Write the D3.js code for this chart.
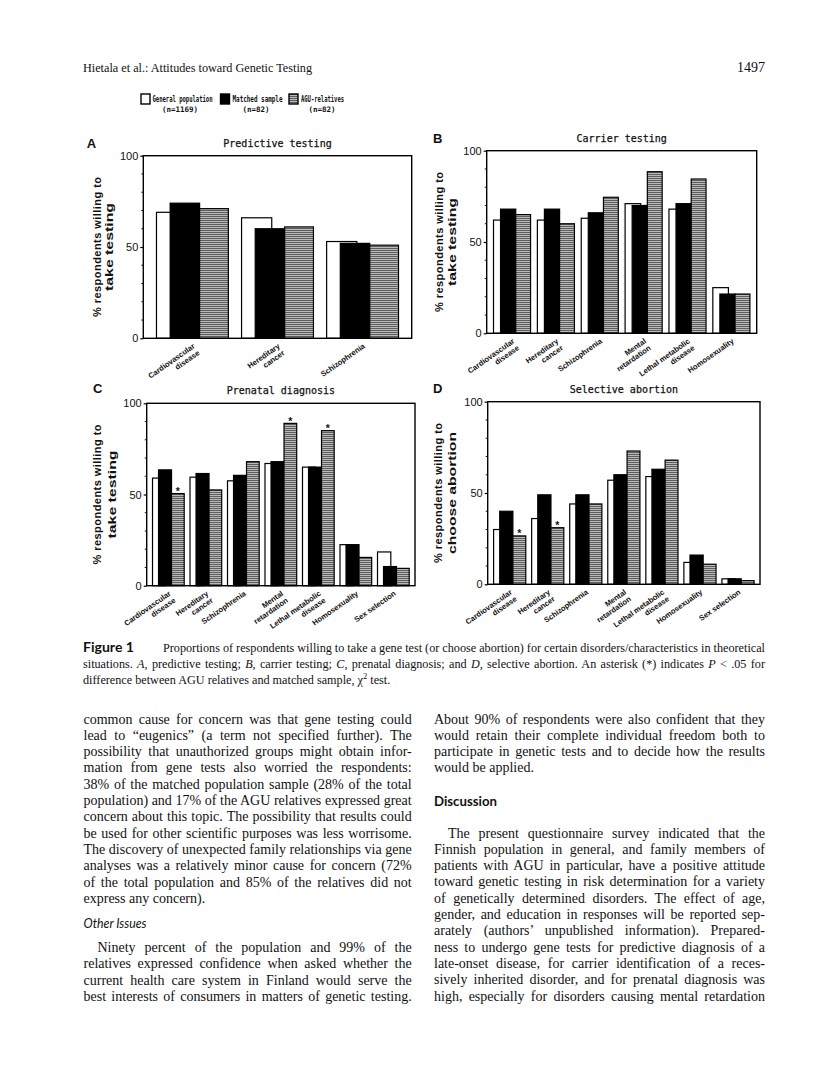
<!DOCTYPE html>
<html><head><meta charset="utf-8">
<script src="https://cdn.jsdelivr.net/npm/d3@7"></script>
<style>body{margin:0;background:#fff} svg{display:block} text{white-space:pre}</style>
</head><body>
<svg id="page" width="816" height="1081"></svg>
<script>
// ---------- DATA ----------
const headerTitle = "Hietala et al.: Attitudes toward Genetic Testing";
const pageNumber = "1497";
const seriesNames = ["General population", "Matched sample", "AGU-relatives"];
const seriesN = ["(n=1169)", "(n=82)", "(n=82)"];
const yTicks = [0, 50, 100];
const yMinorTicks = [10, 20, 30, 40, 60, 70, 80, 90];
const yTitleTesting = ["% respondents willing to", "take testing"];
const yTitleAbortion = ["% respondents willing to", "choose abortion"];
const panelTitles = ["Predictive testing", "Carrier testing", "Prenatal diagnosis", "Selective abortion"];
const panelLetters = ["A", "B", "C", "D"];

const categoriesA = ["Cardiovascular|disease", "Hereditary|cancer", "Schizophrenia"];
const categoriesB = ["Cardiovascular|disease", "Hereditary|cancer", "Schizophrenia", "Mental|retardation", "Lethal metabolic|disease", "Homosexuality"];
const categoriesCD = ["Cardiovascular|disease", "Hereditary|cancer", "Schizophrenia", "Mental|retardation", "Lethal metabolic|disease", "Homosexuality", "Sex selection"];

const predictiveGeneral = [69, 66, 53];
const predictiveMatched = [74, 60, 52];
const predictiveAGU     = [71, 61, 51];

const carrierGeneral = [62, 62, 63, 71, 68, 25];
const carrierMatched = [68, 68, 66, 70, 71, 21.5];
const carrierAGU     = [65, 60, 74.5, 88.5, 84.5, 21.5];

const prenatalGeneral = [59, 59.5, 57.5, 67, 65, 22.5, 18.5];
const prenatalMatched = [63.5, 61.5, 60.5, 68, 65, 22.5, 10.5];
const prenatalAGU     = [50.5, 52.5, 68, 89, 85, 15.5, 9.5];
const prenatalSignificant = [1, 0, 0, 1, 1, 0, 0];

const abortionGeneral = [30, 36, 44, 57, 59, 12, 3];
const abortionMatched = [40, 49, 49, 60, 63, 16, 3];
const abortionAGU     = [26.5, 31, 44, 73, 68, 11, 2];
const abortionSignificant = [1, 1, 0, 0, 0, 0, 0];

const captionLabel = "Figure 1";
const captionLines = [
  "Proportions of respondents willing to take a gene test (or choose abortion) for certain disorders/characteristics in theoretical",
  "situations. _A_, predictive testing; _B_, carrier testing; _C_, prenatal diagnosis; and _D_, selective abortion. An asterisk (*) indicates _P_ < .05 for",
  "difference between AGU relatives and matched sample, χ^2^ test."
];

const leftPara1 = [
  "common cause for concern was that gene testing could",
  "lead to “eugenics” (a term not specified further). The",
  "possibility that unauthorized groups might obtain infor-",
  "mation from gene tests also worried the respondents:",
  "38% of the matched population sample (28% of the total",
  "population) and 17% of the AGU relatives expressed great",
  "concern about this topic. The possibility that results could",
  "be used for other scientific purposes was less worrisome.",
  "The discovery of unexpected family relationships via gene",
  "analyses was a relatively minor cause for concern (72%",
  "of the total population and 85% of the relatives did not",
  "express any concern)."
];
const leftHeading = "Other Issues";
const leftPara2 = [
  "Ninety percent of the population and 99% of the",
  "relatives expressed confidence when asked whether the",
  "current health care system in Finland would serve the",
  "best interests of consumers in matters of genetic testing."
];
const rightPara1 = [
  "About 90% of respondents were also confident that they",
  "would retain their complete individual freedom both to",
  "participate in genetic tests and to decide how the results",
  "would be applied."
];
const rightHeading = "Discussion";
const rightPara2 = [
  "The present questionnaire survey indicated that the",
  "Finnish population in general, and family members of",
  "patients with AGU in particular, have a positive attitude",
  "toward genetic testing in risk determination for a variety",
  "of genetically determined disorders. The effect of age,",
  "gender, and education in responses will be reported sep-",
  "arately (authors’ unpublished information). Prepared-",
  "ness to undergo gene tests for predictive diagnosis of a",
  "late-onset disease, for carrier identification of a reces-",
  "sively inherited disorder, and for prenatal diagnosis was",
  "high, especially for disorders causing mental retardation"
];

// ---------- DRAWING ----------
const svg = d3.select("#page");
svg.append("rect").attr("width", 816).attr("height", 1081).attr("fill", "#fff");
const serif = "'Liberation Serif','Times New Roman',serif";
const sans = "'Liberation Sans',Arial,sans-serif";
const mono = "'DejaVu Sans Mono',monospace";
const gill = "Lato,'Open Sans',sans-serif";
const ink = "#111";

const defs = svg.append("defs");
const pat = defs.append("pattern").attr("id", "hatch").attr("patternUnits", "userSpaceOnUse")
  .attr("width", 4).attr("height", 2);
pat.append("rect").attr("width", 4).attr("height", 2).attr("fill", "#b9b9b9");
pat.append("rect").attr("width", 4).attr("height", 1).attr("fill", "#5e5e5e");
const seriesFill = ["#fff", "#000", "url(#hatch)"];

// Header
svg.append("text").attr("x", 83).attr("y", 72).attr("font-family", serif).attr("font-size", 12.5)
  .attr("fill", ink).attr("textLength", 229).attr("lengthAdjust", "spacingAndGlyphs").text(headerTitle);
svg.append("text").attr("x", 765).attr("y", 72).attr("text-anchor", "end").attr("font-family", serif)
  .attr("font-size", 14).attr("fill", ink).text(pageNumber);

// Legend
const legendBoxX = [141, 220.5, 289];
const legendTextX = [152.5, 232.5, 301];
const legendTextLen = [60, 50, 43];
const legendNX = [180, 256, 322];
seriesNames.forEach((name, i) => {
  svg.append("rect").attr("x", legendBoxX[i]).attr("y", 94).attr("width", 9).attr("height", 10)
    .attr("fill", seriesFill[i]).attr("stroke", "#000").attr("stroke-width", 1.4);
  svg.append("text").attr("x", legendTextX[i]).attr("y", 102).attr("font-family", mono)
    .attr("font-weight", "bold").attr("font-size", 8).attr("fill", ink)
    .attr("textLength", legendTextLen[i]).attr("lengthAdjust", "spacingAndGlyphs").text(name);
  svg.append("text").attr("x", legendNX[i]).attr("y", 111.5).attr("text-anchor", "middle")
    .attr("font-family", mono).attr("font-weight", "bold").attr("font-size", 7.5).attr("fill", ink)
    .text(seriesN[i]);
});

const panels = [
  {cats: categoriesA, series: [predictiveGeneral, predictiveMatched, predictiveAGU], sig: null, yTitle: yTitleTesting,
   left: 143.3, top: 155.7, w: 268.4, h: 182.6, yl: [-46.6, -34.5], ylLen: [140, 88], letter: [86.7, 148]},
  {cats: categoriesB, series: [carrierGeneral, carrierMatched, carrierAGU], sig: null, yTitle: yTitleTesting,
   left: 486.7, top: 150.7, w: 270, h: 182.6, yl: [-48.2, -34.7], ylLen: [140, 88], letter: [433, 142.7]},
  {cats: categoriesCD, series: [prenatalGeneral, prenatalMatched, prenatalAGU], sig: prenatalSignificant, yTitle: yTitleTesting,
   left: 146.7, top: 403.3, w: 268.3, h: 182.4, yl: [-49.4, -34.9], ylLen: [140, 88], letter: [93, 392.7]},
  {cats: categoriesCD, series: [abortionGeneral, abortionMatched, abortionAGU], sig: abortionSignificant, yTitle: yTitleAbortion,
   left: 487.7, top: 401.7, w: 272.3, h: 182.6, yl: [-50, -35.4], ylLen: [140, 122], letter: [433, 393]}
];

const barOffsets = [[0, 0.42], [0.19, 0.41], [0.6, 0.4]];

panels.forEach((p, pi) => {
  const g = svg.append("g");
  const x = d3.scaleBand().domain(p.cats).range([p.left, p.left + p.w]).padding(0.155);
  const y = d3.scaleLinear().domain([0, 100]).range([p.top + p.h, p.top]);
  const b = x.bandwidth();

  p.series.forEach((vals, s) => {
    g.append("g").selectAll("rect").data(p.cats.map((c, i) => ({c, v: vals[i]}))).join("rect")
      .attr("x", d => x(d.c) + barOffsets[s][0] * b)
      .attr("width", barOffsets[s][1] * b)
      .attr("y", d => y(d.v))
      .attr("height", d => y(0) - y(d.v))
      .attr("fill", seriesFill[s]).attr("stroke", "#000").attr("stroke-width", 1.2);
  });

  if (p.sig) {
    g.append("g").selectAll("text").data(p.cats.map((c, i) => ({c, v: p.series[2][i], s: p.sig[i]})).filter(d => d.s))
      .join("text")
      .attr("x", d => x(d.c) + (barOffsets[2][0] + barOffsets[2][1] / 2) * b)
      .attr("y", d => y(d.v) + 1.5)
      .attr("text-anchor", "middle").attr("font-family", sans).attr("font-weight", "bold")
      .attr("font-size", 10.5).attr("fill", ink).text("*");
  }

  g.append("rect").attr("x", p.left).attr("y", p.top).attr("width", p.w).attr("height", p.h)
    .attr("fill", "none").attr("stroke", "#000").attr("stroke-width", 1.4);

  const ax = g.append("g").attr("transform", `translate(${p.left},0)`)
    .call(d3.axisLeft(y).tickValues(yTicks).tickSizeInner(3).tickSizeOuter(0).tickPadding(2));
  ax.select(".domain").remove();
  ax.selectAll("line").attr("stroke", "#000").attr("stroke-width", 1.2);
  ax.selectAll("text").attr("font-family", sans).attr("font-size", 11).attr("fill", ink);
  g.append("g").selectAll("line").data(yMinorTicks).join("line")
    .attr("x1", p.left - 2).attr("x2", p.left).attr("y1", d => y(d)).attr("y2", d => y(d))
    .attr("stroke", "#000").attr("stroke-width", 0.9);

  const cy = p.top + p.h / 2;
  p.yTitle.forEach((line, li) => {
    const tx = p.left + p.yl[li];
    g.append("text").attr("transform", `translate(${tx},${cy}) rotate(-90)`)
      .attr("text-anchor", "middle").attr("dominant-baseline", "central")
      .attr("font-family", sans).attr("font-weight", "bold").attr("font-size", 11).attr("fill", ink)
      .attr("textLength", p.ylLen[li]).attr("lengthAdjust", li === 0 ? "spacing" : "spacingAndGlyphs").text(line);
  });

  g.append("text").attr("x", p.left + p.w / 2).attr("y", p.top - 9).attr("text-anchor", "middle")
    .attr("font-family", mono).attr("font-size", 10).attr("fill", ink)
    .attr("stroke", ink).attr("stroke-width", 0.25)
    .text(panelTitles[pi]);
  g.append("text").attr("x", p.letter[0]).attr("y", p.letter[1]).attr("font-family", sans)
    .attr("font-weight", "bold").attr("font-size", 13).attr("fill", ink).text(panelLetters[pi]);

  const bottom = p.top + p.h;
  p.cats.forEach(c => {
    const cx = x(c) + b / 2 + 3;
    const t = g.append("text").attr("transform", `translate(${cx},${bottom + 9}) rotate(-35)`)
      .attr("text-anchor", "end").attr("font-family", sans).attr("font-weight", "bold")
      .attr("font-size", 7.6).attr("fill", ink);
    c.split("|").forEach((ln, li) => {
      t.append("tspan").attr("x", 0).attr("dy", li === 0 ? 0 : 8.3).text(ln);
    });
  });
});

// ---------- TEXT HELPERS ----------
function richText(sel, str) {
  str.split(/(_[^_]+_|\^[^^]+\^)/).filter(s => s.length).forEach(part => {
    if (part[0] === "_") sel.append("tspan").attr("font-style", "italic").text(part.slice(1, -1));
    else if (part[0] === "^") sel.append("tspan").attr("baseline-shift", "super").attr("font-size", "70%").text(part.slice(1, -1));
    else sel.append("tspan").text(part);
  });
}
function justify(t, target) {
  const node = t.node();
  const nat = node.getComputedTextLength();
  const spaces = (node.textContent.match(/ /g) || []).length;
  if (spaces > 0) t.attr("word-spacing", (target - nat) / spaces);
}
function textLine(str, xL, xR, yB, size, doJustify) {
  const t = svg.append("text").attr("x", xL).attr("y", yB).attr("font-family", serif)
    .attr("font-size", size).attr("fill", ink);
  richText(t, str);
  if (doJustify) justify(t, xR - xL);
  return t;
}

svg.append("text").attr("x", 83).attr("y", 652).attr("font-family", gill).attr("font-weight", "bold")
  .attr("font-size", 13.5).attr("fill", ink).attr("textLength", 51).attr("lengthAdjust", "spacingAndGlyphs")
  .text(captionLabel);
textLine(captionLines[0], 163, 765, 652, 12.2, true);
textLine(captionLines[1], 83, 765, 668, 12.2, true);
textLine(captionLines[2], 83, 765, 684, 12.2, false);

const lead = 16.3, bodySize = 14, indent = 14;
function paragraph(lines, xL, xR, y0, justifyLast) {
  lines.forEach((ln, i) => {
    const last = i === lines.length - 1;
    textLine(ln, xL + (i === 0 ? indent : 0), xR, y0 + i * lead, bodySize, !last || justifyLast);
  });
}
const LX0 = 83.5, LX1 = 411.7, RX0 = 434, RX1 = 765;
leftPara1.forEach((ln, i) => {
  textLine(ln, LX0, LX1, 723.5 + i * lead, bodySize, i < leftPara1.length - 1);
});
svg.append("text").attr("x", LX0).attr("y", 928).attr("font-family", gill).attr("font-style", "italic")
  .attr("font-size", 13.5).attr("fill", ink).attr("textLength", 63).attr("lengthAdjust", "spacingAndGlyphs")
  .text(leftHeading);
paragraph(leftPara2, LX0, LX1, 952, true);
rightPara1.forEach((ln, i) => {
  textLine(ln, RX0, RX1, 723.5 + i * lead, bodySize, i < rightPara1.length - 1);
});
svg.append("text").attr("x", RX0).attr("y", 806).attr("font-family", gill).attr("font-weight", "bold")
  .attr("font-size", 14).attr("fill", ink).attr("textLength", 63).attr("lengthAdjust", "spacingAndGlyphs")
  .text(rightHeading);
paragraph(rightPara2, RX0, RX1, 837.5, true);
</script>
</body></html>
